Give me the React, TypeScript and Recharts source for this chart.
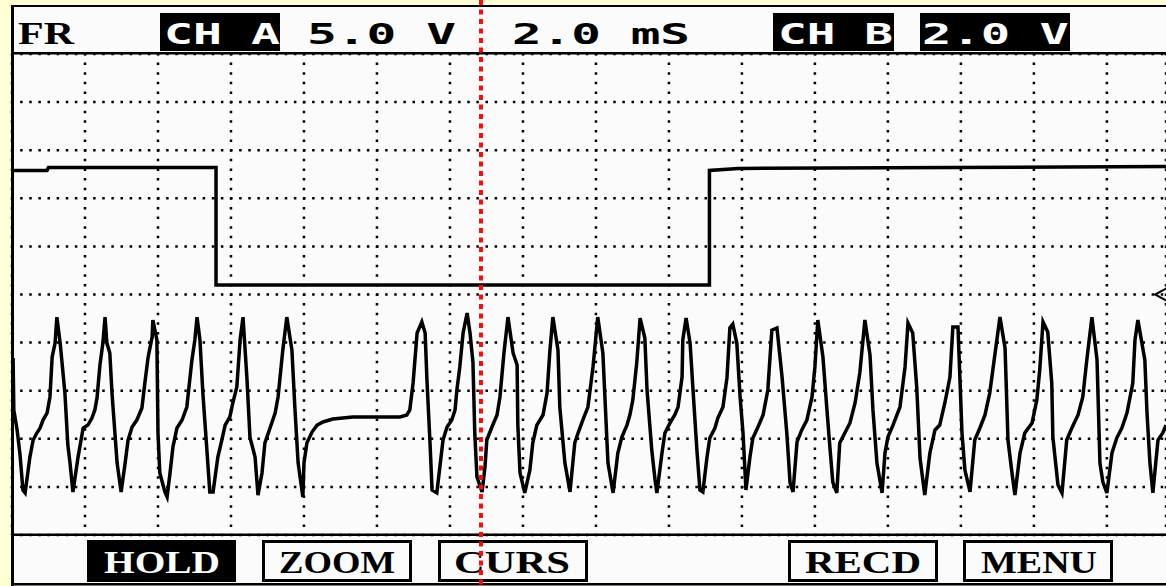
import { CartesianGrid, Line, LineChart, ReferenceDot, ReferenceLine, XAxis, YAxis } from "recharts";

const W = 1166;
const H = 586;
const PAPER = "#ffffd6";
const LCD = "#fbfbfb";
const INK = "#000";
const CURSOR_RED = "#ff0a0a";

/** 2.0 mS per division, the screenshot shows ~15.8 divisions */
const timeDomain: [number, number] = [0, 31.62];
const timeTicks = [2, 4, 6, 8, 10, 12, 14, 16, 18, 20, 22, 24, 26, 28, 30];
/** CH A: 5.0 V per division, ground marker at mid screen */
const chADomain: [number, number] = [-25, 25];
const chATicks = [-20, -15, -10, -5, 0, 5, 10, 15, 20];
/** CH B: 2.0 V per division */
const chBDomain: [number, number] = [0, 20];

const cursorTime = 12.85;

const headerLabels = ["FR", "CH A", "5.0 V", "2.0 mS", "CH B", "2.0 V"];
const softKeys = ["HOLD", "ZOOM", "CURS", "RECD", "MENU"];

// [ms, V]
const chA: [number, number][] = [
  [0, 12.9], [0.96, 12.9], [1.0, 13.2], [5.59, 13.2],
  [5.59, 1.0], [12.0, 1.0], [19.11, 1.0],
  [19.11, 12.9], [19.9, 13.1], [31.62, 13.3],
];

// [ms, V]
const chB: [number, number][] = [
  [0.03, 7.36], [0.05, 5.2], [0.14, 4.37], [0.22, 3.33], [0.3, 1.87], [0.36, 1.75],
  [0.49, 3.24], [0.58, 3.95], [0.68, 4.24], [0.77, 4.45], [0.85, 4.78], [0.96, 5.07], [1.04, 5.74], [1.1, 7.4], [1.18, 7.98], [1.23, 9.06],
  [1.32, 7.98], [1.45, 5.9], [1.53, 3.74], [1.59, 2.99], [1.67, 1.79],
  [1.81, 3.24], [1.95, 4.45], [2.08, 4.57], [2.19, 4.86], [2.27, 5.2], [2.33, 5.7], [2.41, 7.07], [2.49, 7.98], [2.55, 9.06],
  [2.6, 7.98], [2.68, 7.57], [2.74, 5.9], [2.82, 4.24], [2.88, 2.99], [2.99, 1.79],
  [3.1, 2.99], [3.18, 3.95], [3.29, 4.49], [3.42, 4.78], [3.56, 5.28], [3.64, 6.32], [3.73, 7.4], [3.84, 8.23], [3.86, 8.94],
  [3.97, 8.11], [4.0, 4.24], [4.05, 2.58], [4.19, 1.79], [4.25, 1.58],
  [4.33, 2.58], [4.41, 3.66], [4.52, 4.45], [4.66, 4.78], [4.79, 5.32], [4.93, 7.28], [5.01, 8.11], [5.07, 9.06],
  [5.15, 8.11], [5.23, 5.9], [5.34, 3.53], [5.42, 1.79], [5.51, 1.79],
  [5.64, 3.24], [5.75, 3.95], [5.84, 4.57], [5.97, 4.91], [6.05, 5.49], [6.16, 6.15], [6.25, 8.11], [6.33, 9.06],
  [6.44, 6.44], [6.52, 4.07], [6.66, 3.24], [6.74, 1.66],
  [6.85, 2.58], [6.93, 3.83], [7.07, 4.45], [7.21, 5.07], [7.29, 5.74], [7.42, 7.69], [7.53, 9.06],
  [7.67, 7.69], [7.75, 5.32], [7.84, 2.99], [7.97, 1.58],
  // dwell while CH A is low
  [8.0, 2.99], [8.08, 3.83], [8.22, 4.28], [8.36, 4.57], [8.52, 4.7], [8.79, 4.82], [9.34, 4.91], [10.0, 4.91], [10.63, 4.91],
  [10.82, 4.99], [10.9, 5.2], [10.99, 6.32], [11.1, 8.4], [11.23, 8.86],
  [11.32, 8.4], [11.37, 6.44], [11.45, 3.95], [11.51, 1.87], [11.64, 1.75],
  [11.73, 2.91], [11.81, 3.95], [11.92, 4.49], [12.05, 4.78], [12.14, 5.2], [12.19, 6.03], [12.27, 6.99], [12.36, 8.4], [12.47, 9.23],
  [12.55, 8.4], [12.63, 7.19], [12.68, 4.24], [12.74, 2.41], [12.88, 1.79],
  [12.96, 2.83], [13.01, 3.95], [13.15, 4.49], [13.29, 4.99], [13.37, 5.74], [13.48, 7.57], [13.59, 9.06],
  [13.73, 7.57], [13.84, 7.07], [13.86, 4.57], [13.92, 2.58], [14.05, 1.75],
  [14.19, 2.7], [14.27, 3.83], [14.38, 4.57], [14.55, 4.99], [14.66, 5.9], [14.74, 7.69], [14.82, 9.06],
  [14.96, 7.69], [15.01, 5.32], [15.15, 2.99], [15.29, 1.79],
  [15.42, 3.83], [15.51, 4.24], [15.64, 4.78], [15.78, 5.32], [15.92, 6.99], [16.05, 9.06],
  [16.19, 7.57], [16.25, 5.61], [16.33, 2.99], [16.47, 1.75],
  [16.6, 3.41], [16.71, 4.07], [16.85, 4.57], [16.93, 4.99], [17.01, 5.61], [17.12, 7.19], [17.21, 9.02],
  [17.34, 8.19], [17.4, 6.03], [17.53, 3.53], [17.62, 2.29], [17.67, 1.75],
  [17.81, 3.41], [17.89, 4.24], [18.03, 4.66], [18.16, 4.99], [18.25, 5.32], [18.36, 6.57], [18.38, 8.11], [18.47, 9.02],
  [18.58, 7.98], [18.66, 6.03], [18.77, 3.45], [18.85, 1.87], [18.93, 1.79],
  [19.04, 3.2], [19.12, 4.03], [19.26, 4.45], [19.34, 4.86], [19.48, 5.32], [19.59, 6.53], [19.67, 8.61], [19.75, 8.77],
  [19.86, 7.98], [19.95, 5.74], [20.03, 4.24], [20.11, 1.87],
  [20.22, 3.24], [20.3, 4.03], [20.44, 4.49], [20.58, 4.99], [20.71, 6.03], [20.82, 8.52], [20.96, 8.61],
  [21.1, 6.57], [21.23, 4.24], [21.32, 2.16], [21.4, 1.79],
  [21.51, 3.87], [21.64, 4.37], [21.78, 4.78], [21.92, 5.74], [22.0, 6.99], [22.08, 8.94],
  [22.22, 7.4], [22.33, 5.2], [22.41, 3.66], [22.49, 2.2], [22.6, 1.75],
  [22.68, 3.83], [22.82, 4.24], [22.96, 4.66], [23.1, 5.49], [23.23, 6.74], [23.37, 8.94],
  [23.51, 7.48], [23.59, 5.2], [23.7, 2.99], [23.84, 1.75],
  [23.92, 3.41], [24.0, 4.07], [24.14, 4.57], [24.33, 5.32], [24.47, 6.99], [24.55, 8.81],
  [24.68, 8.4], [24.79, 6.15], [24.88, 3.2], [25.01, 1.66],
  [25.15, 3.41], [25.29, 4.37], [25.42, 4.57], [25.56, 5.49], [25.7, 6.57], [25.78, 8.65], [25.92, 8.65],
  [26.03, 4.24], [26.11, 2.7], [26.25, 1.79],
  [26.38, 3.95], [26.52, 4.45], [26.66, 4.99], [26.79, 5.9], [26.93, 7.48], [27.07, 9.06],
  [27.21, 7.78], [27.29, 3.95], [27.4, 2.58], [27.48, 1.66],
  [27.62, 3.41], [27.75, 4.24], [27.95, 4.66], [28.08, 5.61], [28.16, 6.86], [28.25, 8.86],
  [28.38, 8.44], [28.49, 6.32], [28.52, 4.07], [28.66, 2.08], [28.77, 1.75],
  [28.9, 3.95], [29.04, 4.45], [29.21, 4.99], [29.34, 5.74], [29.45, 7.28], [29.59, 9.06],
  [29.73, 7.28], [29.81, 2.99], [29.89, 2.2], [30.0, 1.75],
  [30.14, 3.41], [30.27, 4.03], [30.41, 4.45], [30.55, 5.07], [30.71, 6.32], [30.77, 8.11], [30.85, 8.94],
  [31.04, 7.28], [31.1, 5.07], [31.18, 2.99], [31.26, 1.75],
  [31.4, 3.95], [31.53, 4.24], [31.62, 4.57],
];

const chAData = chA.map(([t, v]) => ({ t, a: v }));
const chBData = chB.map(([t, v]) => ({ t, b: v }));

const MONO = "'DejaVu Sans Mono', monospace";
const SERIF = "'Liberation Serif', 'DejaVu Serif', serif";

function Label({ x, y, w, children, fill = INK, font = MONO, size = 29 }: any) {
  return (
    <text
      x={x}
      y={y}
      textLength={w}
      lengthAdjust="spacingAndGlyphs"
      fill={fill}
      fontFamily={font}
      fontSize={size}
      fontWeight="bold"
    >
      {children}
    </text>
  );
}

function Bezel() {
  const [fr, chAName, chAScale, timeBase, chBName, chBScale] = headerLabels;
  const keyBoxes = [
    { x: 87, tx: 104, filled: true },
    { x: 262, tx: 279, filled: false },
    { x: 438, tx: 454, filled: false },
    { x: 788, tx: 805, filled: false },
    { x: 963, tx: 981, filled: false },
  ];
  return (
    <svg width={W} height={H} style={{ position: "absolute", left: 0, top: 0 }}>
      <rect width={W} height={H} fill={PAPER} />
      <rect x={12} y={6} width={W} height={578} fill={LCD} />
      <rect x={11} y={5} width={3} height={581} fill={INK} />
      <rect x={11} y={5} width={W} height={2} fill={INK} />
      <rect x={11} y={583} width={W} height={2.5} fill={INK} />
      <rect x={11} y={52} width={W} height={2.5} fill={INK} />
      <rect x={11} y={533.5} width={W} height={2.5} fill={INK} />

      <Label x={18} y={44} w={56} font={SERIF} size={31}>{fr}</Label>
      <rect x={160} y={13} width={120} height={38} fill={INK} />
      <Label x={164} y={44} w={116} fill="#fff">{chAName}</Label>
      <Label x={307} y={44} w={149}>{chAScale}</Label>
      <Label x={512} y={44} w={178}>{timeBase}</Label>
      <rect x={773} y={13} width={121} height={38} fill={INK} />
      <Label x={778} y={44} w={115} fill="#fff">{chBName}</Label>
      <rect x={920} y={13} width={150} height={38} fill={INK} />
      <Label x={922} y={44} w={147} fill="#fff">{chBScale}</Label>

      {softKeys.map((k, i) => {
        const b = keyBoxes[i];
        return (
          <g key={k}>
            {b.filled ? (
              <rect x={b.x} y={540} width={149} height={42} fill={INK} />
            ) : (
              <rect x={b.x + 1.5} y={541.5} width={147} height={39} fill="none" stroke={INK} strokeWidth={3} />
            )}
            <Label x={b.tx} y={573} w={116} font={SERIF} size={31} fill={b.filled ? "#fff" : INK}>
              {k}
            </Label>
          </g>
        );
      })}
    </svg>
  );
}

export default function App() {
  return (
    <div style={{ position: "absolute", left: 0, top: 0, width: W, height: H, overflow: "hidden" }}>
      <Bezel />
      <div style={{ position: "absolute", left: 0, top: 0 }}>
        <LineChart width={W} height={H} margin={{ top: 54, right: 0, bottom: 51, left: 12 }}>
          <XAxis dataKey="t" type="number" domain={timeDomain} ticks={timeTicks} hide allowDataOverflow />
          <YAxis yAxisId="a" type="number" domain={chADomain} ticks={chATicks} hide allowDataOverflow />
          <YAxis yAxisId="b" type="number" domain={chBDomain} hide allowDataOverflow />
          <CartesianGrid
            yAxisId="a"
            vertical={false}
            stroke={INK}
            strokeWidth={2.5}
            strokeDasharray="2.5 6.625"
            strokeDashoffset={1}
          />
          <CartesianGrid
            yAxisId="a"
            horizontal={false}
            stroke={INK}
            strokeWidth={2.5}
            strokeDasharray="2.5 7.12"
            strokeDashoffset={1}
          />
          <Line
            data={chAData}
            dataKey="a"
            yAxisId="a"
            type="linear"
            stroke={INK}
            strokeWidth={3.5}
            dot={false}
            isAnimationActive={false}
          />
          <Line
            data={chBData}
            dataKey="b"
            yAxisId="b"
            type="linear"
            stroke={INK}
            strokeWidth={3.5}
            dot={false}
            isAnimationActive={false}
          />
          <ReferenceDot
            x={timeDomain[1]}
            y={0}
            yAxisId="a"
            ifOverflow="visible"
            shape={(p: any) => (
              <polyline
                points={`${p.cx + 2},${p.cy - 7} ${p.cx - 11},${p.cy} ${p.cx + 2},${p.cy + 7}`}
                fill="none"
                stroke={INK}
                strokeWidth={2}
              />
            )}
          />
          <ReferenceLine
            x={cursorTime}
            yAxisId="a"
            ifOverflow="visible"
            shape={(p: any) => (
              <line
                x1={p.x1}
                x2={p.x2}
                y1={0}
                y2={H}
                stroke={CURSOR_RED}
                strokeWidth={4}
                strokeDasharray="5 4.5"
              />
            )}
          />
        </LineChart>
      </div>
    </div>
  );
}
